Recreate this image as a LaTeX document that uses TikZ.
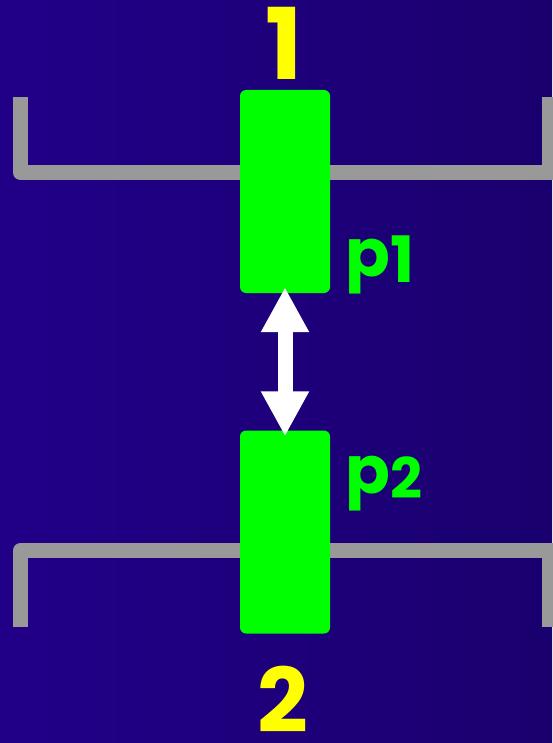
\documentclass[tikz,border=0pt]{standalone}
\usepackage{fontspec}
\setmainfont{Poppins}
\usetikzlibrary{arrows.meta}
\definecolor{bgL}{RGB}{33,0,136}
\definecolor{bgR}{RGB}{26,0,110}
\definecolor{bar}{RGB}{153,153,153}
\definecolor{grn}{RGB}{0,255,0}
\definecolor{ylw}{RGB}{255,255,0}
\tikzset{
  bracket/.style={draw=bar, line width=15pt, line join=round, line cap=butt},
  piston/.style={fill=grn, draw=none, rounded corners=6pt, minimum width=90pt, minimum height=203pt, inner sep=0pt},
  bignum/.style={text=ylw, inner sep=0pt, anchor=base},
  plabel/.style={text=grn, inner sep=0pt, anchor=base west, font=\bfseries},
  dblarrow/.style={draw=white, line width=15pt, {Triangle[length=45pt,width=45pt]}-{Triangle[length=45pt,width=45pt]}}
}
\begin{document}
\begin{tikzpicture}[x=1pt,y=-1pt]
\useasboundingbox (0,0) rectangle (552,743);
\shade[left color=bgL, right color=bgR] (0,0) rectangle (552,743);
% brackets
\draw[bracket] (20.5,97) -- (20.5,172.5) -- (560,172.5);
\draw[bracket] (549.5,97) -- (549.5,172.5);
\draw[bracket] (20.5,627) -- (20.5,550.5) -- (560,550.5);
\draw[bracket] (549.5,627) -- (549.5,550.5);
% pistons
\node[piston] (g1) at (285,191.5) {};
\node[piston] (g2) at (285,532) {};
% labels
\node[bignum, font=\fontsize{99}{99}\selectfont\bfseries] (n1) at (284,80) {1};
\node[bignum, font=\fontsize{89}{89}\selectfont\bfseries] (n2) at (283,732) {2};
\node[plabel] (p1) at (345,276) {\fontsize{66}{66}\selectfont p\raisebox{-6pt}{\fontsize{64}{64}\selectfont 1}};
\node[plabel] (p2) at (345,493) {\fontsize{66}{66}\selectfont p\raisebox{-5pt}{\fontsize{56}{56}\selectfont 2}};
% arrow
\draw[dblarrow, shorten <=-6pt, shorten >=-6pt] (g1.south) -- (g2.north);
\end{tikzpicture}
\end{document}
